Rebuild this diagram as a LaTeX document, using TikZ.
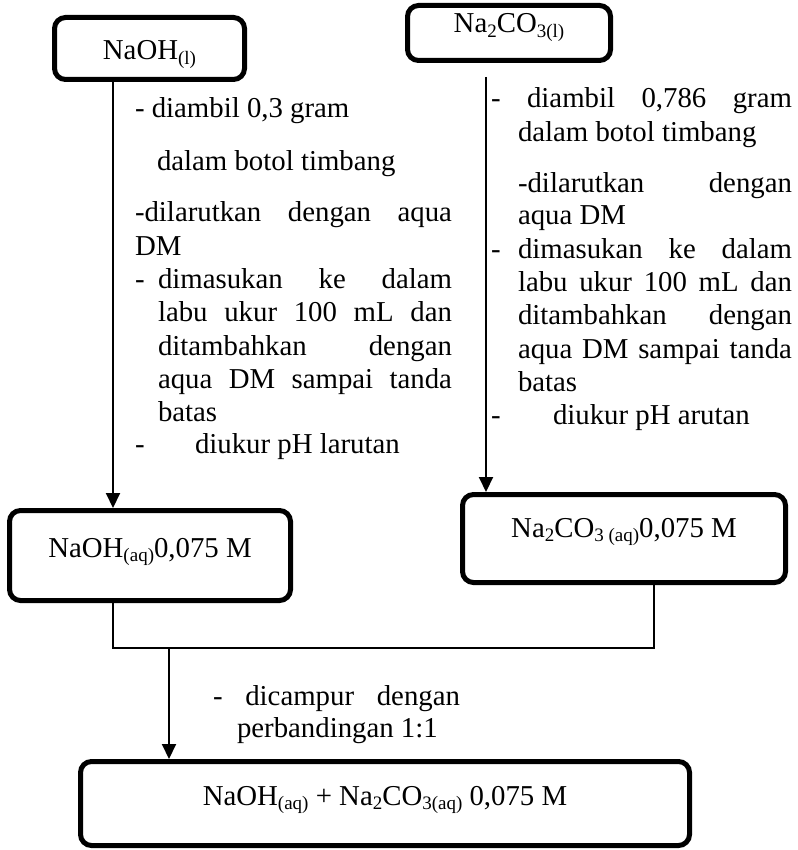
\documentclass[tikz,border=0pt]{standalone}
\usepackage{fontspec}
\setmainfont{Liberation Serif}
\usetikzlibrary{arrows.meta}
\newcommand{\sbs}[1]{\raisebox{-4.5pt}{\fontsize{19}{20}\selectfont #1}}
\begin{document}
\begin{tikzpicture}[x=1pt,y=-1pt,
  font=\fontsize{28.8}{33}\selectfont,
  box/.style={draw, line width=5pt, rounded corners=11pt, inner sep=0pt, outer sep=0pt, align=center},
  txt/.style={anchor=base west, inner sep=0pt, outer sep=0pt},
  conn/.style={line width=2pt},
  arr/.style={conn, -{Triangle[width=14pt,length=15pt]}, shorten >=2.5pt}]
\useasboundingbox (0,0) rectangle (797,850);
% boxes
\node[box, minimum width=190pt, text height=42.5pt, text depth=19.5pt] (b1) at (149.5,48.5) {NaOH\sbs{(l)}};
\node[box, minimum width=203pt, text height=27.5pt, text depth=27.5pt] (b2) at (509,33) {Na\sbs{2}CO\sbs{3(l)}};
\node[box, minimum width=281pt, text height=46.5pt, text depth=43.5pt] (b3) at (150,555.5) {NaOH\sbs{(aq)}0,075 M};
\node[box, minimum width=323pt, text height=42.5pt, text depth=45.5pt] (b4) at (624,538.5) {Na\sbs{2}CO\sbs{3 (aq)}0,075 M};
\node[box, minimum width=609pt, text height=43.5pt, text depth=40.5pt] (b5) at (385,803.5) {NaOH\sbs{(aq)} + Na\sbs{2}CO\sbs{3(aq)} 0,075 M};
% coordinates
\coordinate (xl) at (113,0);
\coordinate (xr) at (486,77);
\coordinate (jL) at (113,648);
\coordinate (jR) at (654,648);
\coordinate (jM) at (169,648);
% connectors
\draw[arr] (b1.south -| xl) -- (b3.north -| xl);
\draw[arr] (xr) -- (b4.north -| xr);
\draw[conn] (b3.south -| jL) -- (jL) -- (jR) -- (b4.south -| jR);
\draw[arr] (jM) -- (b5.north -| jM);
% left text
\node[txt] (l1) at (135,118) {- diambil 0,3 gram};
\node[txt] (l2) at (157,171) {dalam botol timbang};
\node[txt] (l3) at (135,222) {\makebox[317pt][s]{-dilarutkan dengan aqua}};
\node[txt] (l4) at (135,255) {DM};
\node[txt] (l5a) at (135,288) {-};
\node[txt] (l5) at (158,288) {\makebox[294pt][s]{dimasukan ke dalam}};
\node[txt] (l6) at (158,321) {\makebox[294pt][s]{labu ukur 100 mL dan}};
\node[txt] (l7) at (158,355) {\makebox[294pt][s]{ditambahkan dengan}};
\node[txt] (l8) at (158,388) {\makebox[294pt][s]{aqua DM sampai tanda}};
\node[txt] (l9) at (158,421) {batas};
\node[txt] (l10a) at (135,453) {-};
\node[txt] (l10) at (195,453) {diukur pH larutan};
% right text
\node[txt] (r1) at (491,108) {\makebox[301pt][s]{- diambil 0,786 gram}};
\node[txt] (r2) at (518,142) {dalam botol timbang};
\node[txt] (r3) at (518,193) {\makebox[274pt][s]{-dilarutkan dengan}};
\node[txt] (r4) at (518,225) {aqua DM};
\node[txt] (r5a) at (491,258) {-};
\node[txt] (r5) at (518,258) {\makebox[274pt][s]{dimasukan ke dalam}};
\node[txt] (r6) at (518,291) {\makebox[274pt][s]{labu ukur 100 mL dan}};
\node[txt] (r7) at (518,324) {\makebox[274pt][s]{ditambahkan dengan}};
\node[txt] (r8) at (518,358) {\makebox[274pt][s]{aqua DM sampai tanda}};
\node[txt] (r9) at (518,391) {batas};
\node[txt] (r10a) at (491,424) {-};
\node[txt] (r10) at (553,424) {diukur pH arutan};
% bottom text
\node[txt] (m1) at (213,705) {\makebox[247pt][s]{- dicampur dengan}};
\node[txt] (m2) at (237,737) {perbandingan 1:1};
\end{tikzpicture}
\end{document}
